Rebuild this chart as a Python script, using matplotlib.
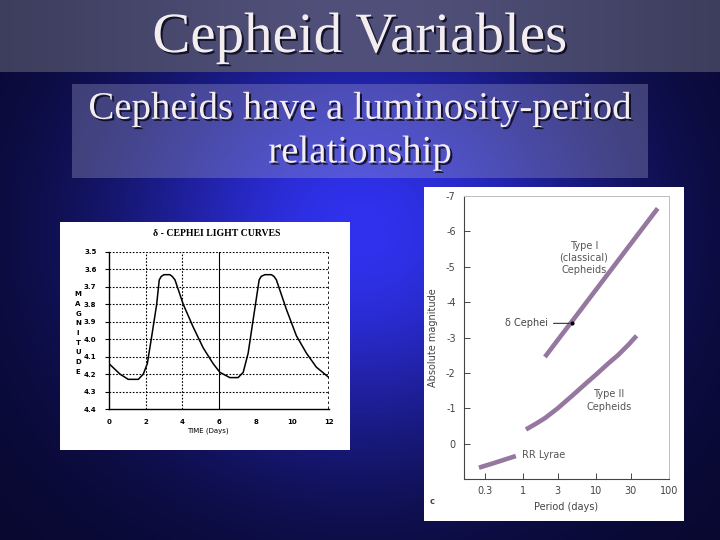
import numpy as np
import matplotlib.pyplot as plt
import matplotlib.patheffects as pe
from matplotlib.patches import Rectangle

# delta Cephei light curve (time in days, magnitude)
t_days = [0, 0.3, 0.6, 1.05, 1.6, 1.87, 2.09, 2.32, 2.6, 2.74, 2.85, 3.0, 3.32, 3.45, 3.6,
          4.05, 4.59, 5.14, 5.68, 6.05, 6.59, 7.04, 7.32, 7.59, 7.86, 8.19, 8.3, 8.5,
          8.86, 9.0, 9.13, 9.68, 10.22, 10.77, 11.31, 12.0]
mag = [4.14, 4.17, 4.2, 4.23, 4.23, 4.2, 4.14, 3.99, 3.8, 3.66, 3.64, 3.63, 3.63, 3.64, 3.66,
       3.8, 3.93, 4.05, 4.14, 4.19, 4.22, 4.22, 4.19, 4.08, 3.89, 3.66, 3.64, 3.63,
       3.63, 3.64, 3.66, 3.83, 3.98, 4.08, 4.16, 4.22]
mag_ticks = [3.5, 3.6, 3.7, 3.8, 3.9, 4.0, 4.1, 4.2, 4.3, 4.4]
time_ticks = [0, 2, 4, 6, 8, 10, 12]

# period-luminosity bands
type1_P = [2.0, 3, 5, 10, 20, 30, 70]
type1_M = [-2.45, -2.93, -3.53, -4.35, -5.17, -5.65, -6.65]
type2_P = [1.1, 1.5, 2, 3, 5, 7, 10, 15, 20, 28, 36]
type2_M = [-0.4, -0.56, -0.72, -1.0, -1.4, -1.67, -1.95, -2.28, -2.5, -2.8, -3.05]
rr_P = [0.25, 0.4, 0.8]
rr_M = [0.68, 0.55, 0.35]
dcep_P, dcep_M = 4.7, -3.4
period_ticks = [0.3, 1, 3, 10, 30, 100]
period_labels = ['0.3', '1', '3', '10', '30', '100']
absmag_ticks = [-7, -6, -5, -4, -3, -2, -1, 0]

W, H = 720, 540
fig = plt.figure(figsize=(7.2, 5.4), dpi=100)

def box(x0, y0, x1, y1):
    return [x0 / W, 1 - y1 / H, (x1 - x0) / W, (y1 - y0) / H]

# slide background
bg = fig.add_axes([0, 0, 1, 1])
bg.set_xlim(0, W)
bg.set_ylim(H, 0)
bg.axis('off')
yy, xx = np.mgrid[0:H, 0:W]
f = np.exp(-((xx - 360) / 240.0) ** 2) * np.exp(-((yy - 230) / 220.0) ** 2)
dark = np.array([8, 8, 46]) / 255
bright = np.array([48, 50, 238]) / 255
img = dark + f[..., None] * (bright - dark)
g = np.exp(-((xx[:72] - 360) / 320.0) ** 2)
hd0 = np.array([54, 55, 82]) / 255
hd1 = np.array([80, 80, 122]) / 255
img[:72] = hd0 + g[..., None] * (hd1 - hd0)
bg.imshow(img, extent=(0, W, H, 0), aspect='auto', zorder=0)
bg.add_patch(Rectangle((72, 84), 576, 94, fc=(0.62, 0.62, 0.78), alpha=0.35, lw=0, zorder=1))

shadow = [pe.withSimplePatchShadow(offset=(1.5, -1.5), shadow_rgbFace='#0c0c22', alpha=0.9)]
for x, y, s, size in [(360, 38, 'Cepheid Variables', 41),
                      (360, 109, 'Cepheids have a luminosity-period', 28),
                      (360, 153, 'relationship', 28)]:
    bg.text(x, y, s, fontsize=size, family='Liberation Serif', color='#f4edf0',
            ha='center', va='center', zorder=3, path_effects=shadow)

bg.add_patch(Rectangle((60, 222), 290, 228, fc='white', lw=0, zorder=2))
bg.add_patch(Rectangle((424, 187), 260, 334, fc='white', lw=0, zorder=2))

# left: light curves
ax1 = fig.add_axes(box(109, 252, 329, 409))
ax1.plot(t_days, mag, color='black', lw=1.1)
ax1.set_xlim(0, 12)
ax1.set_ylim(4.4, 3.5)
ax1.set_yticks(mag_ticks)
ax1.set_yticklabels(['%.1f' % v for v in mag_ticks], fontsize=5, fontweight='bold')
ax1.set_xticks(time_ticks)
ax1.set_xticklabels([str(v) for v in time_ticks], fontsize=5, fontweight='bold')
ax1.tick_params(axis='y', length=3, width=0.8, pad=6)
ax1.tick_params(axis='x', length=0, pad=7)
for v in mag_ticks[:-1]:
    ax1.axhline(v, color='black', lw=0.8, ls=(0, (1.5, 1.5)))
ax1.axvline(2, color='black', lw=0.8, ls=(0, (1.5, 1.5)))
ax1.axvline(4, color='black', lw=0.8, ls=(0, (1.5, 1.5)))
ax1.axvline(6, color='black', lw=0.8)
ax1.axvline(12, color='black', lw=1.2, ls=(0, (1.5, 1.5)))
for s in ['top', 'right']:
    ax1.spines[s].set_visible(False)
ax1.spines['left'].set_linewidth(1)
ax1.spines['bottom'].set_linewidth(1)
fig.text(217 / W, 1 - 234 / H, 'δ - CEPHEI LIGHT CURVES', fontsize=7, family='Liberation Serif',
         fontweight='bold', ha='center', va='center')
fig.text(208 / W, 1 - 431 / H, 'TIME (Days)', fontsize=5, ha='center', va='center')
fig.text(78 / W, 1 - 333 / H, 'M\nA\nG\nN\nI\nT\nU\nD\nE', fontsize=5, fontweight='bold',
         ha='center', va='center', linespacing=1.75)

# right: period-luminosity relation
band = '#9577a0'
ax2 = fig.add_axes(box(464, 196, 669, 479))
ax2.plot(type1_P, type1_M, color=band, lw=3.3, solid_capstyle='butt')
ax2.plot(type2_P, type2_M, color=band, lw=3.3, solid_capstyle='butt')
ax2.plot(rr_P, rr_M, color=band, lw=3.3, solid_capstyle='butt')
ax2.plot([dcep_P], [dcep_M], 'o', color='black', ms=2)
ax2.set_xscale('log')
ax2.set_xlim(0.156, 100)
ax2.set_ylim(1, -7)
ax2.set_xticks(period_ticks)
ax2.set_xticklabels(period_labels)
ax2.minorticks_off()
ax2.set_yticks(absmag_ticks)
ax2.set_yticklabels([str(v) for v in absmag_ticks])
ax2.tick_params(direction='in', length=4, width=0.7, labelsize=7, labelcolor='#444444', color='#444444')
ax2.tick_params(axis='y', pad=6)
ax2.tick_params(axis='x', pad=5)
for s in ['left', 'bottom']:
    ax2.spines[s].set_color('#444444')
    ax2.spines[s].set_linewidth(0.8)
for s in ['top', 'right']:
    ax2.spines[s].set_color('#c0c0c0')
    ax2.spines[s].set_linewidth(0.7)
ax2.set_xlabel('Period (days)', fontsize=7, color='#444444', labelpad=4)
ax2.set_ylabel('Absolute magnitude', fontsize=7, color='#444444', labelpad=6)
ax2.annotate('δ Cephei', xy=(dcep_P, dcep_M), xytext=(2.2, dcep_M), fontsize=7, color='#444444',
             ha='right', va='center', arrowprops=dict(arrowstyle='-', color='#333333', lw=0.8))
ax2.text(6.85, -5.25, 'Type I\n(classical)\nCepheids', fontsize=7, color='#555555',
         ha='center', va='center', linespacing=1.3)
ax2.text(15, -1.22, 'Type II\nCepheids', fontsize=7, color='#555555', ha='center', va='center',
         linespacing=1.3)
ax2.text(0.97, 0.32, 'RR Lyrae', fontsize=7, color='#555555', ha='left', va='center')
fig.text(432 / W, 1 - 502 / H, 'c', fontsize=6, fontweight='bold', color='#444444',
         ha='center', va='center')

fig.savefig('out.png', dpi=100)
